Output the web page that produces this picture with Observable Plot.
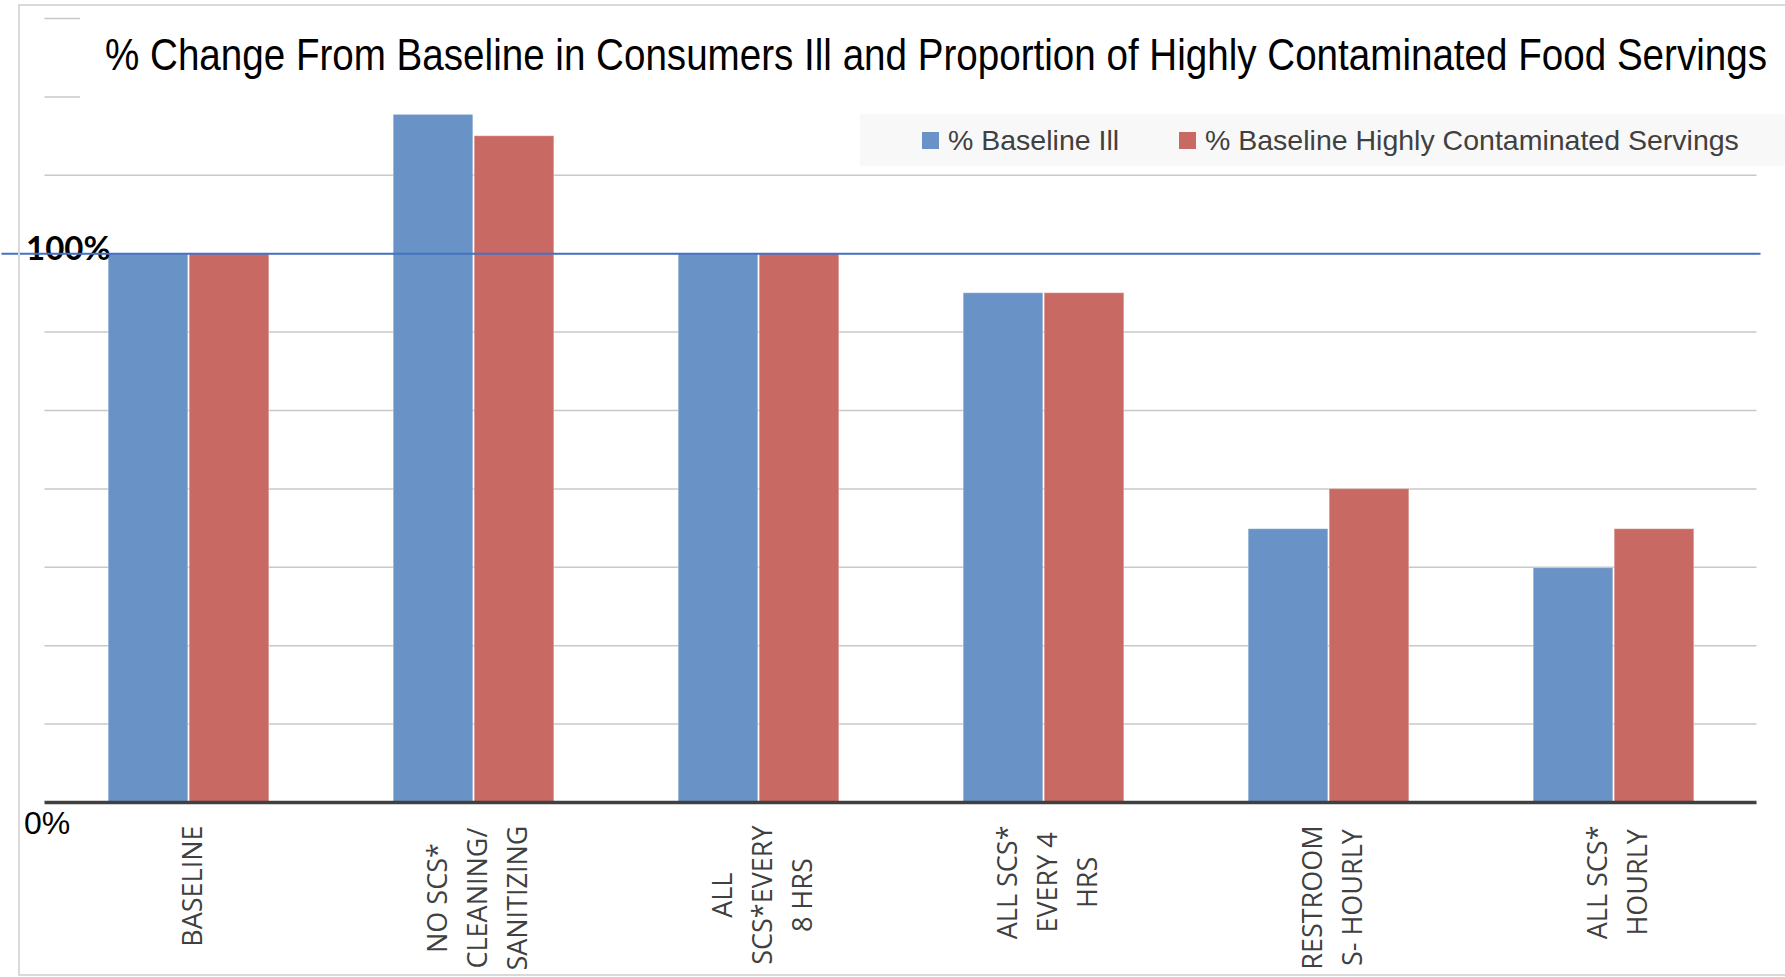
<!DOCTYPE html>
<html>
<head>
<meta charset="utf-8">
<script src="https://cdn.jsdelivr.net/npm/d3@7"></script>
<script src="https://cdn.jsdelivr.net/npm/@observablehq/plot@0.6"></script>
<style>
  html, body { margin: 0; padding: 0; background: #fff; }
  #wrap { position: relative; width: 1785px; height: 977px; overflow: hidden; background: #fff; }
  #wrap > svg { position: absolute; left: 0; top: 0; }
  #border { position: absolute; left: 18px; top: 4px; width: 1780px; height: 972px; border: 2px solid #d9d9d9; box-sizing: border-box; pointer-events: none; }
  #title { position: absolute; left: 80px; top: 10px; width: 1705px; height: 94px; background: #fff; }
  #titleText { position: absolute; left: 25px; top: 15px; font-family: "Liberation Sans", Arial, sans-serif; font-size: 44px;
               line-height: 60px; white-space: nowrap; color: #000; transform-origin: 0 50%; display: inline-block; }
  #legend { position: absolute; left: 860px; top: 114px; width: 925px; height: 52px; background: #f8f8f8;
            font-family: "Liberation Sans", Arial, sans-serif; font-size: 28.5px; color: #404040; }
  .item { position: absolute; top: 0; height: 52px; display: flex; align-items: center; white-space: nowrap; }
  .sw { width: 17px; height: 17px; margin-right: 9px; flex: none; }
</style>
</head>
<body>
<div id="wrap"></div>
<script>
// ---- data ----
const categories = ["BASELINE", "NO SCS CLEANING", "ALL SCS 8 HRS", "ALL SCS 4 HRS", "RESTROOMS HOURLY", "ALL SCS HOURLY"];
const categoryLabels = [
  "BASELINE",
  "NO SCS*\nCLEANING/\nSANITIZING",
  "ALL\nSCS*EVERY\n8 HRS",
  "ALL SCS*\nEVERY 4\nHRS",
  "RESTROOM\nS- HOURLY",
  "ALL SCS*\nHOURLY"
];
const series = ["% Baseline Ill", "% Baseline Highly Contaminated Servings"];
const baselineIll = [1.00, 1.253, 1.00, 0.928, 0.498, 0.427];
const highlyContaminated = [1.00, 1.214, 1.00, 0.928, 0.571, 0.498];
const colors = ["#6993C6", "#C96964"];
const gridTicks = [1, 2, 3, 4, 5, 6, 7, 8, 9, 10].map(k => k / 7);
const yMax = 10 / 7;
const yLabelTop = {value: 1, label: "100%"};
const yLabelZero = {value: 0, label: "0%"};
const titleText = "% Change From Baseline in Consumers Ill and Proportion of Highly Contaminated Food Servings";

// ---- table ----
const data = categories.flatMap((c, i) => [
  {cat: c, series: series[0], value: baselineIll[i]},
  {cat: c, series: series[1], value: highlyContaminated[i]}
]);

// ---- layout ----
const W = 1785, H = 977;
const mL = 44.5, mR = 28.5, mT = 18, mB = 175;
const band = (W - mL - mR) / categories.length;
const barW = 80, gap = 0.5;
const outer = band / 2 - barW - gap;
const inner = band / 2 + gap;

const ctx = document.createElement("canvas").getContext("2d");
ctx.font = "27px 'Open Sans'";
const maxLine = s => d3.max(s.split("\n"), t => ctx.measureText(t).width) || 120;

const labelMarks = categories.map((c, i) => Plot.text([c], {
  x: d => d, frameAnchor: "bottom", text: () => categoryLabels[i],
  rotate: -90, textAnchor: "middle", lineAnchor: "middle", lineHeight: 1.48,
  dy: 23 + maxLine(categoryLabels[i]) / 2,
  fontSize: 27, fontFamily: "Open Sans", fill: "#404040"
}));

const chart = Plot.plot({
  width: W, height: H,
  marginLeft: mL, marginRight: mR, marginTop: mT, marginBottom: mB,
  x: {type: "band", domain: categories, padding: 0, axis: null},
  y: {domain: [0, yMax], axis: null},
  color: {domain: series, range: colors},
  style: {background: "transparent", overflow: "visible"},
  marks: [
    Plot.ruleY(gridTicks, {stroke: "#c8c8c8", strokeWidth: 1.5}),
    Plot.barY(data.filter(d => d.series === series[0]), {
      x: "cat", y: "value", fill: "series", insetLeft: outer, insetRight: inner,
      stroke: "#ffffff", strokeOpacity: 0.35, strokeWidth: 1
    }),
    Plot.barY(data.filter(d => d.series === series[1]), {
      x: "cat", y: "value", fill: "series", insetLeft: inner, insetRight: outer,
      stroke: "#ffffff", strokeOpacity: 0.35, strokeWidth: 1
    }),
    Plot.ruleY([0], {stroke: "#404040", strokeWidth: 3.5}),
    Plot.text([yLabelTop], {
      y: "value", text: "label", frameAnchor: "left", textAnchor: "start",
      dx: -19, dy: -4, fontSize: 33, fontWeight: "bold", fontFamily: "Lato", fill: "#000"
    }),
    Plot.ruleY([1], {stroke: "#4472C4", strokeWidth: 2, insetLeft: -43, insetRight: -4}),
    ...labelMarks,
    Plot.text([yLabelZero], {
      y: "value", text: "label", frameAnchor: "left", textAnchor: "start",
      dx: -21, dy: 21, fontSize: 32, fontFamily: "Liberation Sans", fill: "#000"
    })
  ]
});

const wrap = document.getElementById("wrap");
wrap.appendChild(chart);

// title (condensed to the reference's width)
const title = document.createElement("div");
title.id = "title";
const tt = document.createElement("span");
tt.id = "titleText";
tt.textContent = titleText;
title.appendChild(tt);
wrap.appendChild(title);
const natural = tt.getBoundingClientRect().width || 1662;
tt.style.transform = `scaleX(${1662 / natural})`;

// legend
const legend = document.createElement("div");
legend.id = "legend";
const legendLeft = [62, 319];
series.forEach((s, i) => {
  const it = document.createElement("div");
  it.className = "item";
  it.style.left = legendLeft[i] + "px";
  const sw = document.createElement("span");
  sw.className = "sw";
  sw.style.background = colors[i];
  const tx = document.createElement("span");
  tx.textContent = s;
  it.appendChild(sw); it.appendChild(tx);
  legend.appendChild(it);
});
wrap.appendChild(legend);

const border = document.createElement("div");
border.id = "border";
wrap.appendChild(border);
</script>
</body>
</html>
